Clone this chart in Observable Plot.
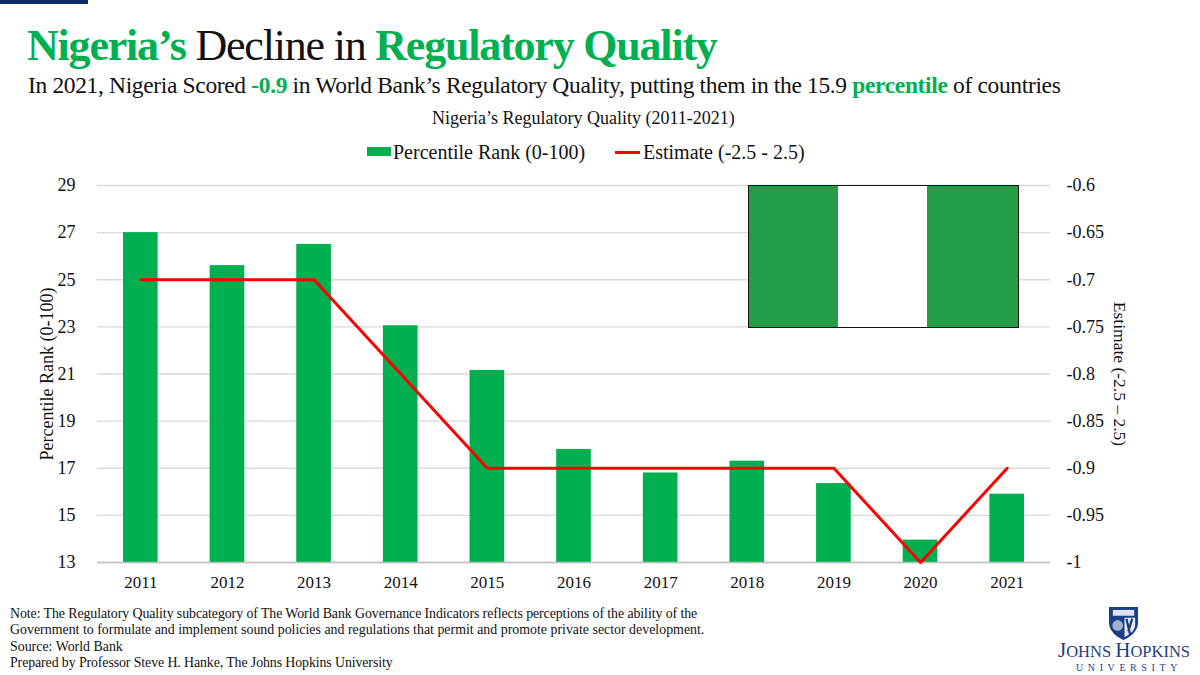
<!DOCTYPE html>
<html><head><meta charset="utf-8">
<script src="https://cdn.jsdelivr.net/npm/d3@7"></script>
<script src="https://cdn.jsdelivr.net/npm/@observablehq/plot@0.6"></script>
<style>
html,body{margin:0;padding:0;background:#fff;width:1200px;height:675px;overflow:hidden;font-family:"Liberation Serif",serif;color:#111}
.a{position:absolute;white-space:nowrap}
.g{color:#00b050;font-weight:bold}
#chart{position:absolute;left:0;top:170px}
#chart svg{background:transparent;overflow:visible}
</style></head><body>
<div class="a" style="left:0;top:0;width:88px;height:4px;background:#0b2a6b"></div>
<div class="a" id="title" style="left:27px;top:21px;font-size:44px;line-height:50px;letter-spacing:-1.2px"><span class="g">Nigeria’s</span> Decline in <span class="g">Regulatory Quality</span></div>
<div class="a" id="sub" style="left:28px;top:71px;font-size:23.5px;line-height:28px;letter-spacing:-.35px">In 2021, Nigeria Scored <span class="g">-0.9</span> in World Bank’s Regulatory Quality, putting them in the 15.9 <span class="g">percentile</span> of countries</div>
<div class="a" style="left:432px;top:108px;font-size:18px;line-height:20px">Nigeria’s Regulatory Quality (2011-2021)</div>
<div class="a" style="left:367px;top:147px;width:24px;height:9px;background:#00b050"></div>
<div class="a" style="left:393px;top:141px;font-size:20px;line-height:22px">Percentile Rank (0-100)</div>
<div class="a" style="left:615px;top:151px;width:25px;height:3px;background:#ff0000"></div>
<div class="a" style="left:643px;top:141px;font-size:20px;line-height:22px">Estimate (-2.5 - 2.5)</div>
<div id="chart"></div>
<div class="a" style="left:748px;top:185px;width:271px;height:143px;border:1px solid #111;box-sizing:border-box;background:linear-gradient(to right,#259c48 0,#259c48 33.2%,#fff 33.2%,#fff 66.3%,#259c48 66.3%)"></div>
<div class="a" style="left:10px;top:606px;font-size:13.9px;line-height:16.3px"><span style="letter-spacing:-.09px">Note: The Regulatory Quality subcategory of The World Bank Governance Indicators reflects perceptions of the ability of the</span><br>Government to formulate and implement sound policies and regulations that permit and promote private sector development.<br>Source: World Bank<br><span style="letter-spacing:-.11px">Prepared by Professor Steve H. Hanke, The Johns Hopkins University</span></div>
<svg class="a" style="left:1108px;top:606px" width="31" height="35" viewBox="0 0 32 36"><path d="M1 1H31V17C31 26 23 32 16 35C9 32 1 26 1 17Z" fill="#1d3f83"/><path d="M5 4H27V10H5Z" fill="#fff" opacity=".85"/><circle cx="10" cy="20" r="5.5" fill="#9fb0cf"/><path d="M17 12H28V19C28 25 23 29 17 32Z" fill="#e8ecf3"/><path d="M19 13L23 30M25 13L21 26" stroke="#1d3f83" stroke-width="2.4"/></svg>
<div class="a" style="left:1058px;top:641px;font-size:16.5px;line-height:20px;height:20px;color:#1d3f83"><span style="font-size:21px;line-height:18px">J</span>OHNS <span style="font-size:21px;line-height:18px">H</span>OPKINS</div>
<div class="a" style="left:1076px;top:662px;font-size:10px;line-height:11px;color:#1d3f83;letter-spacing:4.6px">UNIVERSITY</div>
<script>
const years=[2011,2012,2013,2014,2015,2016,2017,2018,2019,2020,2021];
const percentile=[27.0,25.6,26.5,23.05,21.15,17.8,16.8,17.3,16.35,13.95,15.9];
const estimate=[-0.7,-0.7,-0.7,-0.8,-0.9,-0.9,-0.9,-0.9,-0.9,-1,-0.9];
const rankTicks=[13,15,17,19,21,23,25,27,29];
const estimateLabels=["-1","-0.95","-0.9","-0.85","-0.8","-0.75","-0.7","-0.65","-0.6"];
const rightTitle=["Estimate (-2.5 – 2.5)"];
// the right-hand axis shares the plot's scale: -1 sits on 13 and -0.6 on 29
const toRank=e=>13+(e+1)/0.4*16;
const rows=years.map((year,i)=>({year,rank:percentile[i],est:toRank(estimate[i])}));
const font='"Liberation Serif",serif';
const plot=Plot.plot({
  width:1200,height:430,marginTop:15,marginBottom:38,marginLeft:97,marginRight:150,
  style:{fontFamily:font,fontSize:"16px",color:"#111",background:"transparent"},
  x:{type:"band",domain:years,paddingInner:0.6,paddingOuter:0.3,align:0.5,round:false},
  y:{domain:[13,29]},
  marks:[
    Plot.gridY(rankTicks,{stroke:"#d9d9d9",strokeOpacity:1,strokeWidth:1.3}),
    Plot.barY(rows,{x:"year",y1:13,y2:"rank",fill:"#00b050"}),
    Plot.ruleY([13],{stroke:"#bfbfbf",strokeWidth:1.3}),
    Plot.line(rows,{x:"year",y:"est",stroke:"#ff0000",strokeWidth:3,curve:"linear",strokeLinejoin:"round"}),
    Plot.axisX({tickSize:0,tickPadding:13,label:null,tickFormat:d=>String(d),fontSize:17}),
    Plot.axisY({ticks:rankTicks,tickSize:0,tickPadding:22,tickFormat:d=>String(d),label:"Percentile Rank (0-100)",labelAnchor:"center",labelArrow:"none",labelOffset:57,fontSize:18}),
    Plot.axisY({anchor:"right",ticks:rankTicks,tickSize:0,tickPadding:16,tickFormat:(d,i)=>estimateLabels[rankTicks.indexOf(d)],label:null,fontSize:18}),
    Plot.text(rightTitle,{frameAnchor:"right",textAnchor:"middle",dx:69,rotate:90,fontSize:17.5,fill:"#111"})
  ]
});
document.getElementById("chart").appendChild(plot);
</script>
</body></html>
